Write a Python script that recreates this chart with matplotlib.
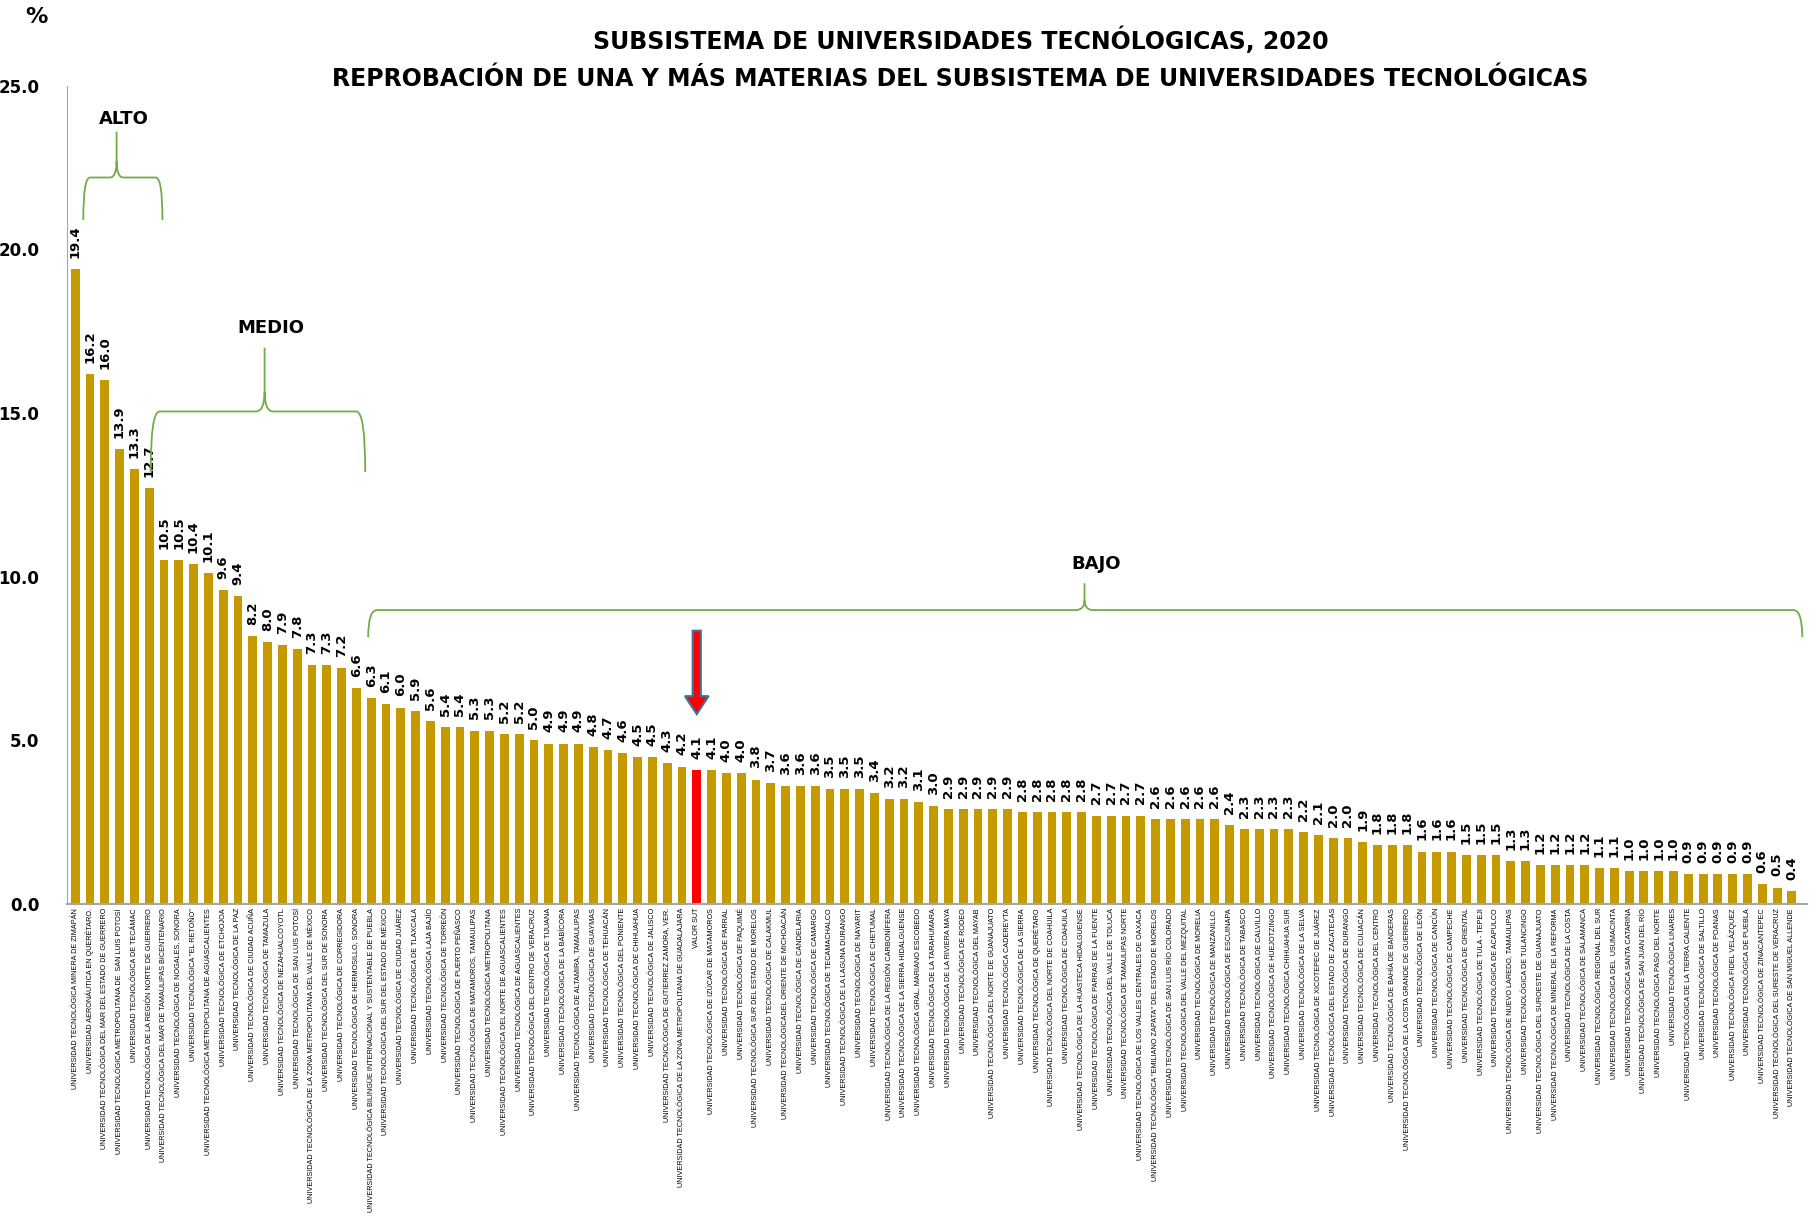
import numpy as np
import matplotlib
matplotlib.use('Agg')
import matplotlib.pyplot as plt
from matplotlib.path import Path
from matplotlib.patches import PathPatch

# universidades (orden del grafico)
escuelas = [
    'UNIVERSIDAD TECNOLÓGICA MINERA DE ZIMAPÁN',
    'UNIVERSIDAD AERONÁUTICA EN QUERÉTARO.',
    'UNIVERSIDAD TECNOLÓGICA DEL MAR DEL ESTADO DE GUERRERO',
    'UNIVERSIDAD TECNOLÓGICA METROPOLITANA DE  SAN LUIS POTOSÍ',
    'UNIVERSIDAD TECNOLÓGICA DE TECÁMAC',
    'UNIVERSIDAD TECNOLÓGICA DE LA REGIÓN NORTE DE GUERRERO',
    'UNIVERSIDAD TECNOLÓGICA DEL MAR DE TAMAULIPAS BICENTENARIO',
    'UNIVERSIDAD TECNOLÓGICA DE NOGALES, SONORA',
    'UNIVERSIDAD TECNOLÓGICA "EL RETOÑO"',
    'UNIVERSIDAD TECNOLÓGICA METROPOLITANA DE AGUASCALIENTES',
    'UNIVERSIDAD TECNOLÓGICA DE ETCHOJOA',
    'UNIVERSIDAD TECNOLÓGICA DE LA PAZ',
    'UNIVERSIDAD TECNOLÓGICA DE CIUDAD ACUÑA',
    'UNIVERSIDAD TECNOLÓGICA DE TAMAZULA',
    'UNIVERSIDAD TECNOLÓGICA DE NEZAHUALCOYOTL',
    'UNIVERSIDAD TECNOLÓGICA DE SAN LUIS POTOSÍ',
    'UNIVERSIDAD TECNOLÓGICA DE LA ZONA METROPOLITANA DEL VALLE DE MÉXICO',
    'UNIVERSIDAD TECNOLÓGICA DEL SUR DE SONORA',
    'UNIVERSIDAD TECNOLÓGICA DE CORREGIDORA',
    'UNIVERSIDAD TECNOLÓGICA DE HERMOSILLO, SONORA',
    'UNIVERSIDAD TECNOLÓGICA BILINGÜE INTERNACIONAL Y SUSTENTABLE DE PUEBLA',
    'UNIVERSIDAD TECNOLÓGICA DEL SUR DEL ESTADO DE MÉXICO',
    'UNIVERSIDAD TECNOLÓGICA DE CIUDAD JUÁREZ',
    'UNIVERSIDAD TECNOLÓGICA DE TLAXCALA',
    'UNIVERSIDAD TECNOLÓGICA LAJA BAJÍO',
    'UNIVERSIDAD TECNOLÓGICA DE TORREÓN',
    'UNIVERSIDAD TECNOLÓGICA DE PUERTO PEÑASCO',
    'UNIVERSIDAD TECNOLÓGICA DE MATAMOROS, TAMAULIPAS',
    'UNIVERSIDAD TECNOLÓGICA METROPOLITANA',
    'UNIVERSIDAD TECNOLÓGICA DEL NORTE DE AGUASCALIENTES',
    'UNIVERSIDAD TECNOLÓGICA DE AGUASCALIENTES',
    'UNIVERSIDAD TECNOLÓGICA DEL CENTRO DE VERACRUZ',
    'UNIVERSIDAD TECNOLÓGICA DE TIJUANA',
    'UNIVERSIDAD TECNOLÓGICA DE LA BABÍCORA',
    'UNIVERSIDAD TECNOLÓGICA DE ALTAMIRA, TAMAULIPAS',
    'UNIVERSIDAD TECNOLÓGICA DE GUAYMAS',
    'UNIVERSIDAD TECNOLÓGICA DE TEHUACÁN',
    'UNIVERSIDAD TECNOLÓGICA DEL PONIENTE',
    'UNIVERSIDAD TECNOLÓGICA DE CHIHUAHUA',
    'UNIVERSIDAD TECNOLÓGICA DE JALISCO',
    'UNIVERSIDAD TECNOLÓGICA DE GUTIERREZ ZAMORA, VER.',
    'UNIVERSIDAD TECNOLÓGICA DE LA ZONA METROPOLITANA DE GUADALAJARA',
    'VALOR SUT',
    'UNIVERSIDAD TECNOLÓGICA DE IZÚCAR DE MATAMOROS',
    'UNIVERSIDAD TECNOLÓGICA DE PARRAL',
    'UNIVERSIDAD TECNOLÓGICA DE PAQUIMÉ',
    'UNIVERSIDAD TECNOLÓGICA SUR DEL ESTADO DE MORELOS',
    'UNIVERSIDAD TECNOLÓGICA DE CALAKMUL',
    'UNIVERSIDAD TECNOLÓGICADEL ORIENTE DE MICHOACÁN',
    'UNIVERSIDAD TECNOLÓGICA DE CANDELARIA',
    'UNIVERSIDAD TECNOLÓGICA DE CAMARGO',
    'UNIVERSIDAD TECNOLÓGICA DE TECAMACHALCO',
    'UNIVERSIDAD TECNOLÓGICA DE LA LAGUNA DURANGO',
    'UNIVERSIDAD TECNOLÓGICA DE NAYARIT',
    'UNIVERSIDAD TECNOLÓGICA DE CHETUMAL',
    'UNIVERSIDAD TECNOLÓGICA DE LA REGIÓN CARBONÍFERA',
    'UNIVERSIDAD TECNOLÓGICA DE LA SIERRA HIDALGUENSE',
    'UNIVERSIDAD TECNOLÓGICA GRAL. MARIANO ESCOBEDO',
    'UNIVERSIDAD TECNOLÓGICA DE LA TARAHUMARA',
    'UNIVERSIDAD TECNOLÓGICA DE LA RIVIERA MAYA',
    'UNIVERSIDAD TECNOLÓGICA DE RODEO',
    'UNIVERSIDAD TECNOLÓGICA DEL MAYAB',
    'UNIVERSIDAD TECNOLÓGICA DEL NORTE DE GUANAJUATO',
    'UNIVERSIDAD TECNOLÓGICA CADEREYTA',
    'UNIVERSIDAD TECNOLÓGICA DE LA SIERRA',
    'UNIVERSIDAD TECNOLÓGICA DE QUERÉTARO',
    'UNIVERSIDAD TECNOLÓGICA DEL NORTE DE COAHUILA',
    'UNIVERSIDAD TECNOLÓGICA DE COAHUILA',
    'UNIVERSIDAD TECNOLÓGICA DE LA HUASTECA HIDALGUENSE',
    'UNIVERSIDAD TECNOLÓGICA DE PARRAS DE LA FUENTE',
    'UNIVERSIDAD TECNOLÓGICA DEL VALLE DE TOLUCA',
    'UNIVERSIDAD TECNOLÓGICA DE TAMAULIPAS NORTE',
    'UNIVERSIDAD TECNOLÓGICA DE LOS VALLES CENTRALES DE OAXACA',
    'UNIVERSIDAD TECNOLÓGICA "EMILIANO ZAPATA" DEL ESTADO DE MORELOS',
    'UNIVERSIDAD TECNOLÓGICA DE SAN LUIS RÍO COLORADO',
    'UNIVERSIDAD TECNOLÓGICA DEL VALLE DEL MEZQUITAL',
    'UNIVERSIDAD TECNOLÓGICA DE MORELIA',
    'UNIVERSIDAD TECNOLÓGICA DE MANZANILLO.',
    'UNIVERSIDAD TECNOLÓGICA DE ESCUINAPA',
    'UNIVERSIDAD TECNOLÓGICA DE TABASCO',
    'UNIVERSIDAD TECNOLÓGICA DE CALVILLO',
    'UNIVERSIDAD TECNOLÓGICA DE HUEJOTZINGO',
    'UNIVERSIDAD TECNOLÓGICA CHIHUAHUA SUR',
    'UNIVERSIDAD TECNOLÓGICA DE LA SELVA',
    'UNIVERSIDAD TECNOLÓGICA DE XICOTEPEC DE JUÁREZ',
    'UNIVERSIDAD TECNOLÓGICA DEL ESTADO DE ZACATECAS',
    'UNIVERSIDAD TECNOLÓGICA DE DURANGO',
    'UNIVERSIDAD TECNOLÓGICA DE CULIACÁN',
    'UNIVERSIDAD TECNOLÓGICA DEL CENTRO',
    'UNIVERSIDAD TECNOLÓGICA DE BAHÍA DE BANDERAS',
    'UNIVERSIDAD TECNOLÓGICA DE LA COSTA GRANDE DE GUERRERO',
    'UNIVERSIDAD TECNOLÓGICA DE LEÓN',
    'UNIVERSIDAD TECNOLÓGICA DE CANCÚN',
    'UNIVERSIDAD TECNOLÓGICA DE CAMPECHE',
    'UNIVERSIDAD TECNOLÓGICA DE ORIENTAL',
    'UNIVERSIDAD TECNOLÓGICA DE TULA - TEPEJI',
    'UNIVERSIDAD TECNOLÓGICA DE ACAPULCO',
    'UNIVERSIDAD TECNOLÓGICA DE NUEVO LAREDO, TAMAULIPAS',
    'UNIVERSIDAD TECNOLÓGICA DE TULANCINGO',
    'UNIVERSIDAD TECNOLÓGICA DEL SUROESTE DE GUANAJUATO',
    'UNIVERSIDAD TECNOLÓGICA DE MINERAL DE LA REFORMA',
    'UNIVERSIDAD TECNOLÓGICA DE LA COSTA',
    'UNIVERSIDAD TECNOLÓGICA DE SALAMANCA',
    'UNIVERSIDAD TECNOLÓGICA REGIONAL DEL SUR',
    'UNIVERSIDAD TECNOLÓGICA DEL  USUMACINTA',
    'UNIVERSIDAD TECNOLÓGICA SANTA CATARINA',
    'UNIVERSIDAD TECNOLÓGICA DE SAN JUAN DEL RÍO',
    'UNIVERSIDAD TECNOLÓGICA PASO DEL NORTE',
    'UNIVERSIDAD TECNOLÓGICA LINARES',
    'UNIVERSIDAD TECNOLÓGICA DE LA TIERRA CALIENTE',
    'UNIVERSIDAD TECNOLÓGICA DE SALTILLO',
    'UNIVERSIDAD TECNOLÓGICA DE POANAS',
    'UNIVERSIDAD TECNOLÓGICA FIDEL VELÁZQUEZ',
    'UNIVERSIDAD TECNOLÓGICA DE PUEBLA',
    'UNIVERSIDAD TECNOLÓGICA DE ZINACANTEPEC',
    'UNIVERSIDAD TECNOLÓGICA DEL SURESTE DE VERACRUZ',
    'UNIVERSIDAD TECNOLÓGICA DE SAN MIGUEL ALLENDE',
]

# % de reprobacion
reprobacion = [
    19.4, 16.2, 16.0, 13.9, 13.3, 12.7, 10.5, 10.5, 10.4, 10.1, 9.6, 9.4,
    8.2, 8.0, 7.9, 7.8, 7.3, 7.3, 7.2, 6.6, 6.3, 6.1, 6.0, 5.9, 5.6, 5.4,
    5.4, 5.3, 5.3, 5.2, 5.2, 5.0, 4.9, 4.9, 4.9, 4.8, 4.7, 4.6, 4.5, 4.5,
    4.3, 4.2, 4.1, 4.1, 4.0, 4.0, 3.8, 3.7, 3.6, 3.6, 3.6, 3.5, 3.5, 3.5,
    3.4, 3.2, 3.2, 3.1, 3.0, 2.9, 2.9, 2.9, 2.9, 2.9, 2.8, 2.8, 2.8, 2.8,
    2.8, 2.7, 2.7, 2.7, 2.7, 2.6, 2.6, 2.6, 2.6, 2.6, 2.4, 2.3, 2.3, 2.3,
    2.3, 2.2, 2.1, 2.0, 2.0, 1.9, 1.8, 1.8, 1.8, 1.6, 1.6, 1.6, 1.5, 1.5,
    1.5, 1.3, 1.3, 1.2, 1.2, 1.2, 1.2, 1.1, 1.1, 1.0, 1.0, 1.0, 1.0, 0.9,
    0.9, 0.9, 0.9, 0.9, 0.6, 0.5, 0.4,
]

yticks = [0, 5, 10, 15, 20, 25]

x = np.arange(len(escuelas))
colores = ['#FF0000' if e == 'VALOR SUT' else '#C49A00' for e in escuelas]

fig = plt.figure(figsize=(18.16, 12.27), dpi=100)
ax = fig.add_axes([0.0369, 0.2633, 0.958, 0.6667])

ax.bar(x, reprobacion, width=0.6, color=colores, zorder=2)

# etiquetas de valor
for i, v in enumerate(reprobacion):
    ax.annotate('%.1f' % v, (x[i], v), textcoords='offset points', xytext=(0, 8),
                rotation=90, ha='center', va='bottom', fontsize=9.5,
                fontweight='bold', color='black')

ax.set_xlim(-0.55, len(escuelas) + 0.0)
ax.set_ylim(0, 25)
ax.set_yticks(yticks)
ax.set_yticklabels(['%.1f' % t for t in yticks], fontsize=12, fontweight='bold')
ax.tick_params(axis='y', length=0, pad=20)
ax.set_xticks(x)
ax.set_xticklabels(escuelas, rotation=90, fontsize=5.2, family='Liberation Sans')
ax.tick_params(axis='x', length=0, pad=3)

for s in ['top', 'right']:
    ax.spines[s].set_visible(False)
ax.spines['left'].set_color('#A6A6A6')
ax.spines['bottom'].set_color('#A6A6A6')
ax.spines['bottom'].set_linewidth(1.5)


def llave(x0, x1, xm, ybase, ypico, yfin, r=0.45, dy=0.5):
    # llave horizontal con punta hacia arriba
    verts = [(x0, yfin), (x0, ybase), (x0 + r, ybase),
             (xm - r, ybase), (xm, ybase), (xm, ybase + dy),
             (xm, ypico),
             (xm, ybase + dy), (xm, ybase), (xm + r, ybase),
             (x1 - r, ybase), (x1, ybase), (x1, yfin)]
    codes = [Path.MOVETO, Path.CURVE3, Path.CURVE3,
             Path.LINETO, Path.CURVE3, Path.CURVE3,
             Path.LINETO,
             Path.MOVETO, Path.CURVE3, Path.CURVE3,
             Path.LINETO, Path.CURVE3, Path.CURVE3]
    ax.add_patch(PathPatch(Path(verts, codes), fill=False, ec='#70AD47', lw=1.3,
                           clip_on=False, zorder=3))


llave(0.55, 5.9, 2.8, 22.2, 23.6, 20.9)
llave(5.1, 19.6, 12.8, 15.05, 17.0, 13.2, r=0.6, dy=0.6)
llave(19.8, 116.7, 68.2, 8.98, 9.8, 8.15, r=0.6, dy=0.3)

ax.text(3.3, 24.0, 'ALTO', ha='center', va='center', fontsize=13, fontweight='bold')
ax.text(13.2, 17.6, 'MEDIO', ha='center', va='center', fontsize=13, fontweight='bold')
ax.text(69.0, 10.4, 'BAJO', ha='center', va='center', fontsize=13, fontweight='bold')

# flecha valor SUT
isut = escuelas.index('VALOR SUT')
ax.arrow(x[isut], 8.35, 0, -2.55, width=0.55, head_width=1.6, head_length=0.55,
         length_includes_head=True, fc='#FF0000', ec='#41719C', lw=1.5, zorder=4)

fig.text(0.529, 0.967, 'SUBSISTEMA DE UNIVERSIDADES TECNÓLOGICAS, 2020',
         ha='center', va='center', fontsize=17, fontweight='bold')
fig.text(0.529, 0.936, 'REPROBACIÓN DE UNA Y MÁS MATERIAS DEL SUBSISTEMA DE UNIVERSIDADES TECNOLÓGICAS',
         ha='center', va='center', fontsize=17, fontweight='bold')
fig.text(0.020, 0.986, '%', ha='center', va='center', fontsize=16, fontweight='bold')

fig.savefig('out.png', dpi=100)
